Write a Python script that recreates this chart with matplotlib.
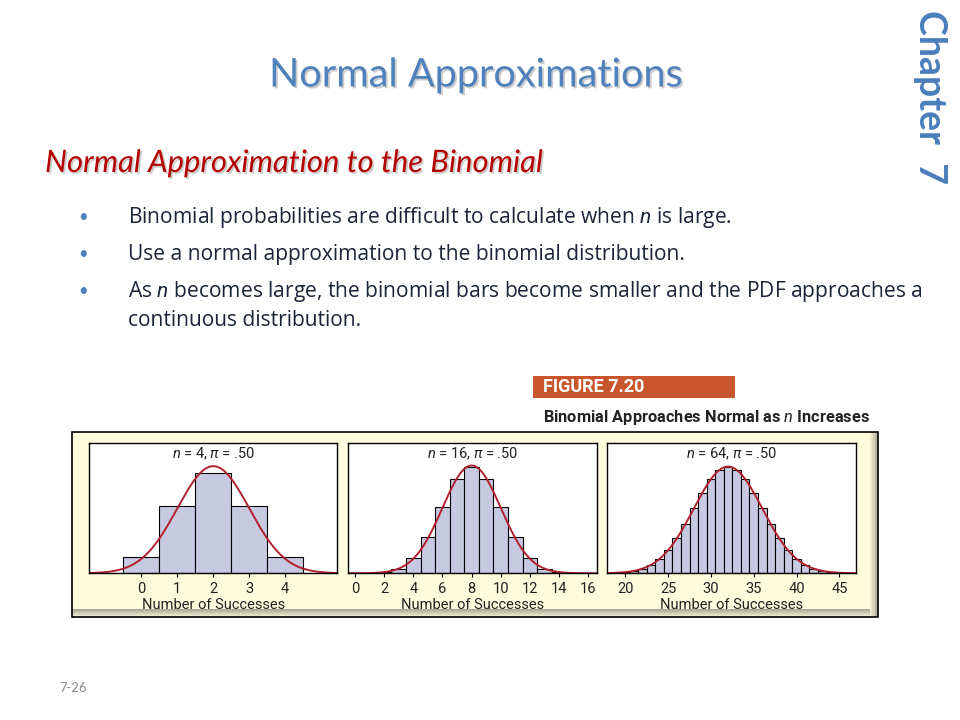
import numpy as np
import matplotlib
matplotlib.use("Agg")
import matplotlib.pyplot as plt
from matplotlib.patches import Rectangle
import matplotlib.patheffects as pe

plt.rcParams['font.family'] = ['Lato', 'DejaVu Sans']
plt.rcParams['mathtext.fontset'] = 'custom'
plt.rcParams['mathtext.rm'] = 'Roboto'
plt.rcParams['mathtext.it'] = 'Roboto:italic'

# data: binomial bars (pi = .50) for three values of n
k4 = [0, 1, 2, 3, 4]
p4 = [0.0625, 0.25, 0.375, 0.25, 0.0625]

k16 = list(range(0, 17))
p16 = [0.0000153, 0.000244, 0.00183, 0.00854, 0.02777, 0.06665, 0.12219, 0.17456,
       0.19638, 0.17456, 0.12219, 0.06665, 0.02777, 0.00854, 0.00183, 0.000244, 0.0000153]

k64 = list(range(18, 47))
p64 = [0.000195, 0.000473, 0.001064, 0.002229, 0.004356, 0.007954, 0.013588, 0.021741,
       0.032611, 0.045897, 0.060649, 0.075288, 0.087836, 0.096336, 0.099347, 0.096336,
       0.087836, 0.075288, 0.060649, 0.045897, 0.032611, 0.021741, 0.013588, 0.007954,
       0.004356, 0.002229, 0.001064, 0.000473, 0.000195]

n_vals = [4, 16, 64]
means = [2, 8, 32]
sds = [1, 2, 4]
panel_titles = ["$n$ = 4, $\\pi$ = .50", "$n$ = 16, $\\pi$ = .50", "$n$ = 64, $\\pi$ = .50"]
ticks = [[0, 1, 2, 3, 4], list(range(0, 17, 2)), [20, 25, 30, 35, 40, 45]]
bullets = ["Binomial probabilities are difficult to calculate when $\\mathit{n}$ is large.",
           "Use a normal approximation to the binomial distribution.",
           "As $\\mathit{n}$ becomes large, the binomial bars become smaller and the PDF approaches a"]
bullet_cont = "continuous distribution."

W, H = 960, 720
fig = plt.figure(figsize=(9.6, 7.2), dpi=100)


def fx(px):
    return px / W


def fy(py):
    return 1 - py / H


blue = "#4f81bd"
shadow = [pe.SimplePatchShadow(offset=(1.3, -1.3), shadow_rgbFace="#999999", alpha=0.5), pe.Normal()]

# slide texts
fig.text(fx(476), fy(75), "Normal Approximations", color=blue, fontsize=28.5,
         ha="center", va="center", path_effects=shadow)
fig.text(fx(45), fy(163), "Normal Approximation to the Binomial", color="#b40000",
         fontsize=22.3, style="italic", ha="left", va="center", path_effects=shadow)
fig.text(fx(930), fy(10), "Chapter  7", color="#4a7ebb", fontsize=27, fontweight="bold",
         rotation=-90, ha="center", va="top")

body = dict(color="#1b2438", fontsize=15.1, family="Open Sans", ha="left", va="center")
plt.rcParams['mathtext.it'] = 'Open Sans:italic'
for y, t in zip([217, 254, 291], bullets):
    fig.text(fx(78), fy(y), "\u2022", color=blue, fontsize=12, ha="left", va="center")
    fig.text(fx(128), fy(y), t, **body)
fig.text(fx(128), fy(321), bullet_cont, **body)

fig.text(fx(59), fy(688), "7-26", color="#8c8c8c", fontsize=9.4, ha="left", va="center")

# figure caption
plt.rcParams['mathtext.it'] = 'Roboto:italic'
fig.patches.append(Rectangle((fx(533), fy(398)), fx(735) - fx(533), fy(376) - fy(398),
                             transform=fig.transFigure, facecolor="#c8552c", edgecolor="none"))
fig.text(fx(543), fy(387), "FIGURE 7.20", color="white", fontsize=13, fontweight="bold",
         family="Roboto", ha="left", va="center")
fig.text(fx(543), fy(417), "Binomial Approaches Normal as $\\mathit{n}$ Increases", color="#222222",
         fontsize=11.8, fontweight="semibold", family="Roboto", ha="left", va="center")

# cream background panel with bevel
x0, x1, y0, y1 = 71.7, 878.3, 431.7, 617.3
fig.patches.append(Rectangle((fx(x0), fy(y1)), fx(x1) - fx(x0), fy(y0) - fy(y1),
                             transform=fig.transFigure, facecolor="#fefcdc", edgecolor="none", zorder=0))
for i in range(8):
    a = 0.06 + 0.06 * i
    fig.patches.append(Rectangle((fx(x1 - 8 + i), fy(y1)), fx(1), fy(y0) - fy(y1),
                                 transform=fig.transFigure, facecolor="#505050", alpha=a,
                                 edgecolor="none", zorder=0.5))
    fig.patches.append(Rectangle((fx(x0), fy(y1 - i)), fx(x1 - 8) - fx(x0), 1 / H,
                                 transform=fig.transFigure, facecolor="#505050", alpha=a,
                                 edgecolor="none", zorder=0.5))
fig.patches.append(Rectangle((fx(x0), fy(y1)), fx(x1) - fx(x0), fy(y0) - fy(y1),
                             transform=fig.transFigure, facecolor="none", edgecolor="black",
                             linewidth=1.2, zorder=1))

# three panels
lefts = [89.3, 348.3, 607.3]
rights = [337.3, 596.7, 855.7]
top, bottom = 443.3, 573.3
xlims = [(-1.45, 5.45), (-0.46, 16.58), (17.9, 46.9)]
ylims = [0.484, 0.2405, 0.1215]
ks = [k4, k16, k64]
ps = [p4, p16, p64]

for i in range(3):
    ax = fig.add_axes([fx(lefts[i]), fy(bottom), fx(rights[i]) - fx(lefts[i]), (bottom - top) / H])
    ax.set_zorder(2)
    ax.set_facecolor("white")
    ax.bar(ks[i], ps[i], width=1.0, color="#c7c9e1", edgecolor="black", linewidth=0.8)
    xs = np.linspace(xlims[i][0], xlims[i][1], 400)
    ys = np.exp(-0.5 * ((xs - means[i]) / sds[i]) ** 2) / (sds[i] * np.sqrt(2 * np.pi))
    ax.plot(xs, ys, color="#b0202e", linewidth=1.4)
    ax.set_xlim(*xlims[i])
    ax.set_ylim(0, ylims[i])
    ax.set_yticks([])
    ax.set_xticks(ticks[i])
    ax.tick_params(axis="x", length=3, width=0.8, pad=3.5, labelsize=10.5, labelcolor="#222222")
    for lab in ax.get_xticklabels():
        lab.set_family("Roboto")
    ax.set_xlabel("Number of Successes", fontsize=10.5, family="Roboto", color="#222222", labelpad=1)
    ax.text(0.5, 0.92, panel_titles[i], transform=ax.transAxes, ha="center", va="center",
            fontsize=10.5, family="Roboto", color="#222222")
    for s in ax.spines.values():
        s.set_linewidth(1.0)

fig.savefig("out.png", dpi=100, facecolor="white")
